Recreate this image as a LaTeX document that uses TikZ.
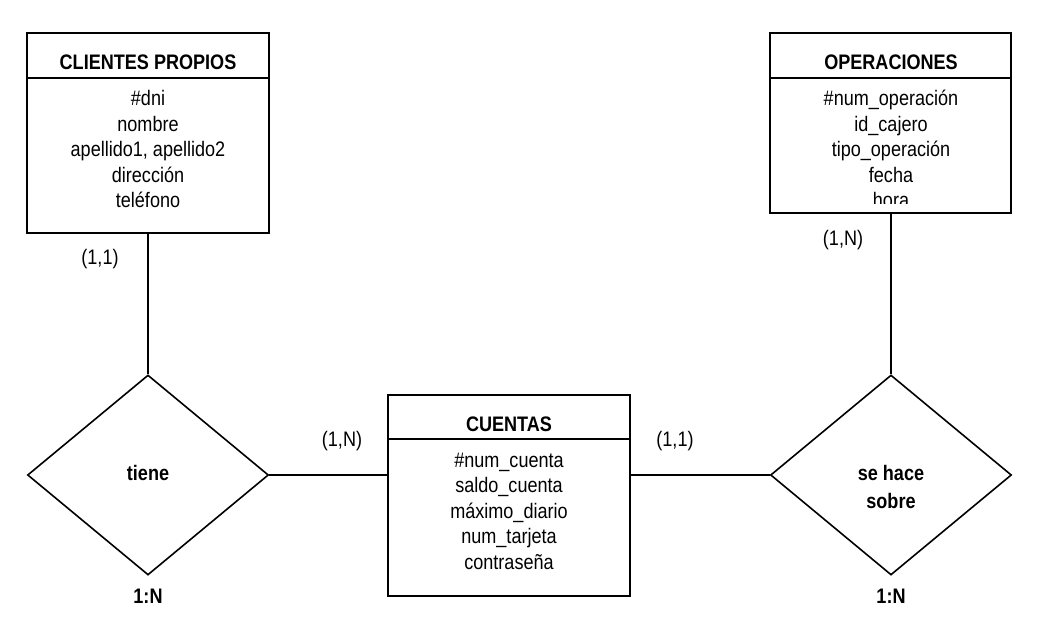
\documentclass[tikz,border=0pt]{standalone}
\usepackage{fontspec}
\setmainfont[FakeStretch=0.86]{Liberation Sans}
\usetikzlibrary{shapes.geometric}
\begin{document}
\begin{tikzpicture}[x=1pt,y=-1pt, line width=1.6pt,
  entity/.style={draw, rectangle, inner sep=0pt, minimum width=242pt},
  rel/.style={draw, diamond, inner sep=0pt, minimum width=241pt, minimum height=200pt},
  ttl/.style={font=\fontsize{21}{25}\selectfont\bfseries, anchor=base, inner sep=0pt},
  attr/.style={font=\fontsize{21}{25}\selectfont, anchor=base, inner sep=0pt},
  card/.style={font=\fontsize{21}{25}\selectfont, anchor=base, inner sep=0pt}]
\useasboundingbox (0,0) rectangle (1038,636);

% entities
\node[entity, minimum height=200pt] (cp) at (148,133) {};
\draw (cp.west |- 0,78) -- (cp.east |- 0,78);
\node[ttl] (cpt) at (148,70) {CLIENTES PROPIOS};
\foreach \t [count=\i] in {\#dni, nombre, {apellido1, apellido2}, dirección, teléfono}
  \node[attr] (cp\i) at (148,80.5+25.5*\i) {\t};

\node[entity, minimum width=241pt, minimum height=180pt] (op) at (890.5,123) {};
\draw (op.west |- 0,78) -- (op.east |- 0,78);
\node[ttl] (opt) at (891,70) {OPERACIONES};
\foreach \t [count=\i] in {\#num\_operación, id\_cajero, tipo\_operación, fecha}
  \node[attr] (op\i) at (891,80.5+25.5*\i) {\t};
\begin{scope}
  \clip (770,33) rectangle (1011,204);
  \node[attr] (op5) at (891,208) {hora};
\end{scope}

\node[entity, minimum height=201pt] (cu) at (509,495.5) {};
\draw (cu.west |- 0,439) -- (cu.east |- 0,439);
\node[ttl] (cut) at (509,431) {CUENTAS};
\foreach \t [count=\i] in {\#num\_cuenta, saldo\_cuenta, máximo\_diario, num\_tarjeta, contraseña}
  \node[attr] (cu\i) at (509,441.5+25.5*\i) {\t};

% relationships
\node[rel] (ti) at (148,475) {};
\node[ttl] (tit) at (148,480) {tiene};
\node[ttl] (tic) at (148,603) {1:N};

\node[rel] (sh) at (891,475) {};
\node[ttl] (sht1) at (891,480) {se hace};
\node[ttl] (sht2) at (891,508) {sobre};
\node[ttl] (shc) at (891,603) {1:N};

% connectors
\draw (cp.south -| ti.north) -- (ti.north);
\draw (ti.east) -- (cu.west |- ti.east);
\draw (cu.east |- sh.west) -- (sh.west);
\draw (sh.north) -- (op.south -| sh.north);

% cardinalities
\node[card] (c1) at (100,265) {(1,1)};
\node[card] (c2) at (843,246) {(1,N)};
\node[card] (c3) at (342,446) {(1,N)};
\node[card] (c4) at (675,446) {(1,1)};
\end{tikzpicture}
\end{document}
